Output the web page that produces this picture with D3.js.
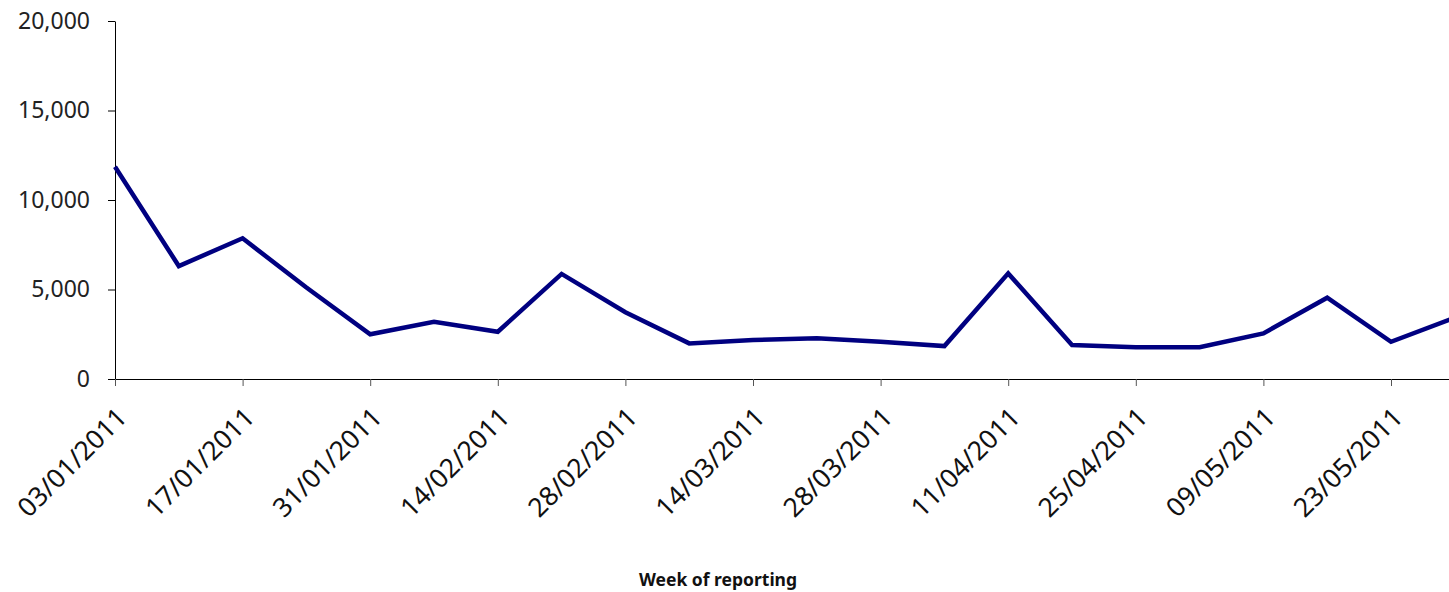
<!DOCTYPE html>
<html>
<head>
<meta charset="utf-8">
<script src="https://cdn.jsdelivr.net/npm/d3@7"></script>
<style>
  body { margin: 0; background: #fff; }
  svg { display: block; font-family: "Noto Sans", sans-serif; }
</style>
</head>
<body>
<svg id="chart" width="1449" height="592"></svg>
<script>
// Weekly reporting data
const weeks = ["03/01/2011", "10/01/2011", "17/01/2011", "24/01/2011", "31/01/2011", "07/02/2011",
  "14/02/2011", "21/02/2011", "28/02/2011", "07/03/2011", "14/03/2011", "21/03/2011",
  "28/03/2011", "04/04/2011", "11/04/2011", "18/04/2011", "25/04/2011", "02/05/2011",
  "09/05/2011", "16/05/2011", "23/05/2011", "30/05/2011"];
const counts = [11860, 6310, 7860, 5110, 2500, 3200, 2640, 5870, 3730, 1990, 2180, 2270,
  2080, 1840, 5900, 1900, 1770, 1770, 2550, 4540, 2080, 3420];
const yTicks = [0, 5000, 10000, 15000, 20000];
const xTitle = "Week of reporting";

// Layout
const margin = {top: 21, left: 115, bottom: 379};
const svg = d3.select("#chart");

const x = d3.scalePoint()
  .domain(weeks)
  .range([margin.left, margin.left + 63.8 * (weeks.length - 1)]);

const y = d3.scaleLinear()
  .domain([0, 20000])
  .range([margin.bottom, margin.top]);

// Y axis
const yAxis = svg.append("g")
  .attr("transform", `translate(${margin.left},0)`)
  .call(d3.axisLeft(y).tickValues(yTicks).tickFormat(d3.format(",")).tickSize(7).tickSizeOuter(0));
yAxis.select(".domain").attr("stroke", "#000");
yAxis.selectAll(".tick line").attr("stroke", "#000");
yAxis.selectAll(".tick text")
  .attr("x", -25)
  .attr("font-size", "23px")
  .attr("font-family", "Noto Sans")
  .attr("fill", "#222");

// X axis: ticks and labels every second week
const labelled = weeks.filter((d, i) => i % 2 === 0);
const xAxis = svg.append("g")
  .attr("transform", `translate(0,${margin.bottom})`)
  .call(d3.axisBottom(x).tickValues(labelled).tickSize(7).tickSizeOuter(0));
xAxis.select(".domain").attr("stroke", "#000");
xAxis.selectAll(".tick line").attr("stroke", "#555");
xAxis.selectAll(".tick text")
  .attr("font-size", "26.5px")
  .attr("font-family", "Noto Sans")
  .attr("fill", "#111")
  .attr("text-anchor", "end")
  .attr("x", 0)
  .attr("y", 0)
  .attr("dy", 0)
  .attr("transform", "translate(13,40) rotate(-45)");

// Axis title
svg.append("text")
  .attr("x", 718)
  .attr("y", 586)
  .attr("text-anchor", "middle")
  .attr("font-size", "17.5px")
  .attr("font-weight", "bold")
  .attr("fill", "#111")
  .text(xTitle);

// Series line
const line = d3.line()
  .x((d, i) => x(weeks[i]))
  .y(d => y(d));

svg.append("path")
  .datum(counts)
  .attr("fill", "none")
  .attr("stroke", "#000080")
  .attr("stroke-width", 4.5)
  .attr("stroke-linejoin", "miter")
  .attr("d", line);
</script>
</body>
</html>
